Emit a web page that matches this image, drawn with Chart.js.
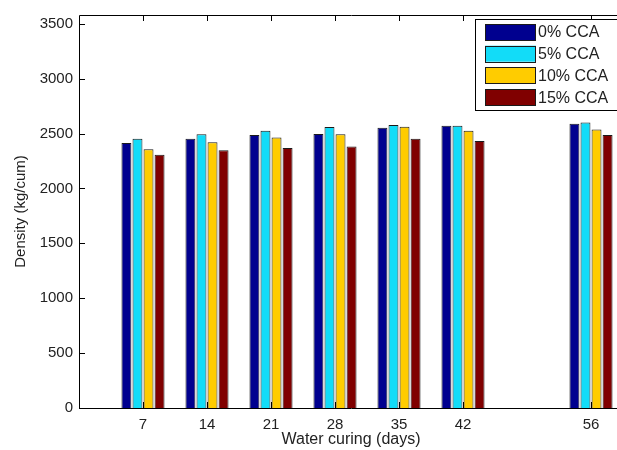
<!DOCTYPE html>
<html>
<head>
<meta charset="utf-8">
<script src="https://cdn.jsdelivr.net/npm/chart.js@4/dist/chart.umd.min.js"></script>
<style>
html,body{margin:0;padding:0;background:#fff;overflow:hidden;}
#wrap{width:630px;height:450px;position:relative;}
</style>
</head>
<body>
<div id="wrap"><canvas id="c"></canvas></div>
<script>
const categories = [7, 14, 21, 28, 35, 42, 56];
const seriesLabels = ['0% CCA', '5% CCA', '10% CCA', '15% CCA'];
const cca0  = [2414, 2453, 2486, 2495, 2553, 2571, 2589];
const cca5  = [2453, 2493, 2525, 2559, 2577, 2571, 2601];
const cca10 = [2357, 2420, 2465, 2493, 2562, 2525, 2536];
const cca15 = [2308, 2348, 2369, 2381, 2453, 2432, 2486];
const yTicks = [0, 500, 1000, 1500, 2000, 2500, 3000, 3500];
const colors = ['#00008f', '#12dcf8', '#ffcc00', '#800000'];

const series = [cca0, cca5, cca10, cca15];
const datasets = series.map((arr, k) => ({
  label: seriesLabels[k],
  data: categories.map((c, i) => ({x: c, y: arr[i]})),
  backgroundColor: colors[k],
  borderColor: '#1a1a1a',
  borderWidth: 1
}));

const FONT = '"Liberation Sans", Arial, Helvetica, sans-serif';

const boxPlugin = {
  id: 'boxPlugin',
  afterDatasetsDraw(chart) {
    const ctx = chart.ctx, a = chart.chartArea;
    const xs = chart.scales.x, ys = chart.scales.y;
    ctx.save();
    ctx.strokeStyle = '#000';
    ctx.lineWidth = 1;
    ctx.beginPath();
    ctx.rect(Math.round(a.left) + 0.5, Math.round(a.top) + 0.5, Math.round(a.right - a.left), Math.round(a.bottom - a.top));
    const tl = 6;
    categories.forEach(v => {
      const px = Math.round(xs.getPixelForValue(v)) + 0.5;
      ctx.moveTo(px, a.bottom); ctx.lineTo(px, a.bottom - tl);
      ctx.moveTo(px, a.top); ctx.lineTo(px, a.top + tl);
    });
    yTicks.forEach(v => {
      const py = Math.round(ys.getPixelForValue(v)) + 0.5;
      ctx.moveTo(a.left, py); ctx.lineTo(a.left + tl, py);
      ctx.moveTo(a.right, py); ctx.lineTo(a.right - tl, py);
    });
    ctx.stroke();
    ctx.restore();
  },
  afterDraw(chart) {
    const ctx = chart.ctx;
    const lx = 475.5, ly = 19.5, lw = 144, lh = 91;
    ctx.save();
    ctx.fillStyle = '#fff';
    ctx.fillRect(lx, ly, lw, lh);
    ctx.strokeStyle = '#000';
    ctx.lineWidth = 1;
    ctx.strokeRect(lx, ly, lw, lh);
    ctx.font = '16px ' + FONT;
    ctx.textBaseline = 'middle';
    chart.data.datasets.forEach((ds, i) => {
      const cy = 32 + i * 21.7;
      ctx.fillStyle = ds.backgroundColor;
      ctx.fillRect(485, cy - 8, 51, 16);
      ctx.strokeStyle = '#1a1a1a';
      ctx.strokeRect(485.5, Math.round(cy - 8) + 0.5, 50, 16);
      ctx.fillStyle = '#222';
      ctx.fillText(ds.label, 538, cy + 1);
    });
    ctx.restore();
  }
};

new Chart(document.getElementById('c'), {
  type: 'bar',
  data: { datasets },
  options: {
    responsive: true,
    maintainAspectRatio: false,
    devicePixelRatio: 1,
    animation: false,
    layout: { padding: { left: 0, right: 7, top: 12, bottom: 0 } },
    categoryPercentage: 0.69,
    barPercentage: 0.9,
    plugins: { legend: { display: false }, tooltip: { enabled: false } },
    scales: {
      x: {
        type: 'linear',
        min: 0,
        max: 59.5,
        offset: false,
        grid: { display: false, drawTicks: false },
        border: { display: false },
        afterBuildTicks: s => { s.ticks = categories.map(v => ({ value: v })); },
        afterFit: s => { s.height = 42; },
        ticks: { padding: 8, color: '#222', font: { family: FONT, size: 15 }, maxRotation: 0, autoSkip: false, callback: v => String(v) },
        title: { display: true, text: 'Water curing (days)', color: '#222', font: { family: FONT, size: 16 }, padding: { top: 0, bottom: 1 } }
      },
      y: {
        min: 0,
        max: 3580,
        grid: { display: false, drawTicks: false },
        border: { display: false },
        afterBuildTicks: s => { s.ticks = yTicks.map(v => ({ value: v })); },
        afterFit: s => { s.width = 79; },
        ticks: { padding: 6, color: '#222', font: { family: FONT, size: 15 }, callback: v => String(v) },
        title: { display: true, text: 'Density (kg/cum)', color: '#222', font: { family: FONT, size: 15 }, padding: { top: 12, bottom: 0 } }
      }
    }
  },
  plugins: [boxPlugin]
});
</script>
</body>
</html>
